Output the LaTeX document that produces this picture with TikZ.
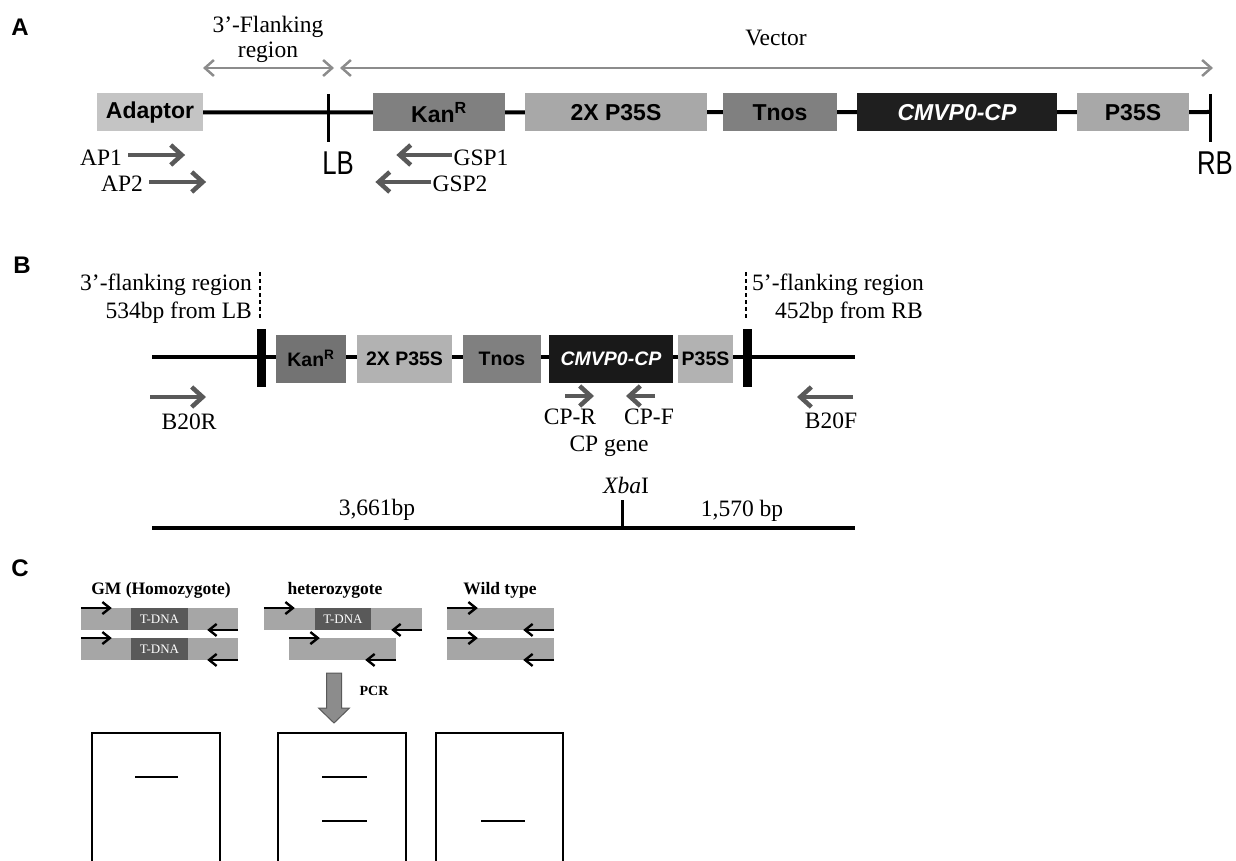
\documentclass[tikz,border=0pt]{standalone}
\usepackage{fontspec}
\setmainfont{Liberation Serif}
\newfontfamily\arialf{Liberation Sans}
\usetikzlibrary{arrows.meta}

\begin{document}
\begin{tikzpicture}[x=1pt, y=-1pt,
  every node/.style={inner sep=0pt},
  serif/.style={font=\fontsize{23.5}{25}\selectfont},
  title/.style={font=\fontsize{17.5}{19}\selectfont\bfseries},
  panel/.style={font=\arialf\bfseries\fontsize{24}{26}\selectfont},
  segA/.style={minimum height=38, font=\arialf\bfseries\fontsize{23}{25}\selectfont},
  segB/.style={minimum height=48, font=\arialf\bfseries\fontsize{19.5}{21}\selectfont},
  border/.style={font=\arialf\fontsize{33}{35}\selectfont},
  backbone/.style={line width=4},
  primer/.style={black!65, line width=4.5, -{Straight Barb[length=11pt,width=20pt]}},
  span/.style={black!45, line width=2.5, {Straight Barb[length=9pt,width=16pt]}-{Straight Barb[length=9pt,width=16pt]}},
  strand/.style={fill=black!35, minimum height=21.5},
  tdna/.style={fill=black!65, text=white, minimum height=21.5, font=\fontsize{13}{15}\selectfont},
  pr/.style={line width=2.4, -{Straight Barb[length=7.5pt,width=12pt]}},
  gel/.style={line width=1.3},
  band/.style={line width=2}]
\useasboundingbox (0,0) rectangle (1236,861);

% A
\node[panel] (la) at (20,27) {A};
\node[serif, align=center] (flank) at (268,39) {3’-Flanking\\region};
\node[serif] (vec) at (776,38) {Vector};
\coordinate (fl1) at (203,68);
\coordinate (fl2) at (334,68);
\coordinate (ve1) at (340,68);
\coordinate (ve2) at (1213,68);
\draw[span] (fl1) -- (fl2);
\draw[span] (ve1) -- (ve2);

\node[segA, fill=black!23, minimum width=106] (adaptor) at (150,112.5) {Adaptor};
\coordinate (rbA) at (1210,112);
\draw[backbone] (adaptor.east) -- (rbA);
\draw[line width=3] (328,94) -- (328,142);
\draw[line width=3] (1210,94) -- (1210,142);
\node[segA, fill=black!50, minimum width=132] (kanA) at (439,112.5) {Kan\textsuperscript{R}};
\node[segA, fill=black!34, minimum width=182] (dblA) at (616,112.5) {2X P35S};
\node[segA, fill=black!50, minimum width=114] (tnosA) at (780,112.5) {Tnos};
\node[segA, fill=black!88, text=white, minimum width=200] (cmvA) at (957,112.5) {\itshape CMVP0-CP};
\node[segA, fill=black!34, minimum width=112] (ppA) at (1133,112.5) {P35S};
\node[border] (lbA) at (338,163) {\scalebox{0.78}[1]{LB}};
\node[border] (rbtxt) at (1215,163) {\scalebox{0.78}[1]{RB}};

\node[serif] (ap1) at (101,158) {AP1};
\node[serif] (ap2) at (122,184) {AP2};
\node[serif] (gsp1) at (481,158) {GSP1};
\node[serif] (gsp2) at (460,184) {GSP2};
\draw[primer] ([xshift=6]ap1.east) ++(0,-3) -- ++(57,0);
\draw[primer] ([xshift=6]ap2.east) ++(0,-2) -- ++(57,0);
\draw[primer] ([xshift=-1]gsp1.west) ++(0,-3) -- ++(-56,0);
\draw[primer] ([xshift=-1]gsp2.west) ++(0,-2) -- ++(-56,0);

% B
\node[panel] (lbb) at (22,265) {B};
\node[serif, anchor=east] (f3a) at (252,285) {3’-flanking region};
\node[serif, anchor=east] (f3b) at (252,313) {534bp from LB};
\node[serif, anchor=west] (f5a) at (752,285) {5’-flanking region};
\node[serif, anchor=west] (f5b) at (775,313) {452bp from RB};
\draw[dashed, dash pattern=on 4pt off 3pt, line width=1.5] (260,272) -- (260,318);
\draw[dashed, dash pattern=on 4pt off 3pt, line width=1.5] (746,272) -- (746,318);

\coordinate (b0) at (152,357);
\coordinate (b1) at (855,357);
\draw[line width=4.5] (b0) -- (b1);
\draw[line width=9] (261.5,329) -- (261.5,387);
\draw[line width=9] (747,329) -- (747,387);
\node[segB, fill=black!55, minimum width=70] (kanB) at (311,358.5) {Kan\textsuperscript{R}};
\node[segB, fill=black!30, minimum width=95] (dblB) at (404.5,358.5) {2X P35S};
\node[segB, fill=black!50, minimum width=78] (tnosB) at (502,358.5) {Tnos};
\node[segB, fill=black!90, text=white, minimum width=124] (cmvB) at (611,358.5) {\itshape CMVP0-CP};
\node[segB, fill=black!30, minimum width=55] (ppB) at (705.5,358.5) {P35S};

\node[serif] (b20r) at (189,422) {B20R};
\node[serif] (b20f) at (831,421) {B20F};
\node[serif] (cpr) at (570,417) {CP-R};
\node[serif] (cpf) at (649,417) {CP-F};
\node[serif] (cpg) at (609,446) {CP gene};
\draw[primer] (150,397) -- (206,397);
\draw[primer] (853,397) -- (797,397);
\draw[primer] (565,396) -- (594,396);
\draw[primer] (655,396) -- (626,396);

\node[serif] (xba) at (626,485) {\textit{Xba}I};
\coordinate (s0) at (152,528);
\coordinate (s1) at (855,528);
\draw[line width=4.5] (s0) -- (s1);
\draw[line width=3] (622,500) -- (622,528);
\node[serif] (len1) at (377,510) {3,661bp};
\node[serif] (len2) at (742,511) {1,570 bp};

% C
\node[panel] (lc) at (20,568) {C};
\node[title] (tgm) at (161,590) {GM (Homozygote)};
\node[title] (thet) at (335,590) {heterozygote};
\node[title] (twt) at (500,590) {Wild type};

\node[strand, minimum width=157] (gm1) at (159.5,619) {};
\node[tdna, minimum width=57] (gmt1) at (159.5,619) {T-DNA};
\node[strand, minimum width=157] (gm2) at (159.5,649) {};
\node[tdna, minimum width=57] (gmt2) at (159.5,649) {T-DNA};
\node[strand, minimum width=158] (het1) at (343,619) {};
\node[tdna, minimum width=56] (hett1) at (343,619) {T-DNA};
\node[strand, minimum width=107] (het2) at (342.5,649) {};
\node[strand, minimum width=107] (wt1) at (500.5,619) {};
\node[strand, minimum width=107] (wt2) at (500.5,649) {};
\foreach \s in {gm1,gm2,het1,het2,wt1,wt2}{
  \draw[pr] (\s.north west) -- ++(31,0);
  \draw[pr] (\s.south east) -- ++(-31,0);
}

\draw[fill=black!45, draw=black!65, line width=1] (326.5,673) -- (341.5,673) -- (341.5,708) -- (349.5,708) -- (334,723) -- (318.5,708) -- (326.5,708) -- cycle;
\node[font=\fontsize{14}{16}\selectfont\bfseries] (pcr) at (374,691) {PCR};

\draw[gel] (92,861) -- (92,733) -- (220,733) -- (220,861);
\draw[gel] (278,861) -- (278,733) -- (406,733) -- (406,861);
\draw[gel] (436,861) -- (436,733) -- (563,733) -- (563,861);
\draw[band] (135,777) -- (178,777);
\draw[band] (322,777) -- (367,777);
\draw[band] (322,821) -- (367,821);
\draw[band] (481,821) -- (525,821);
\end{tikzpicture}
\end{document}
